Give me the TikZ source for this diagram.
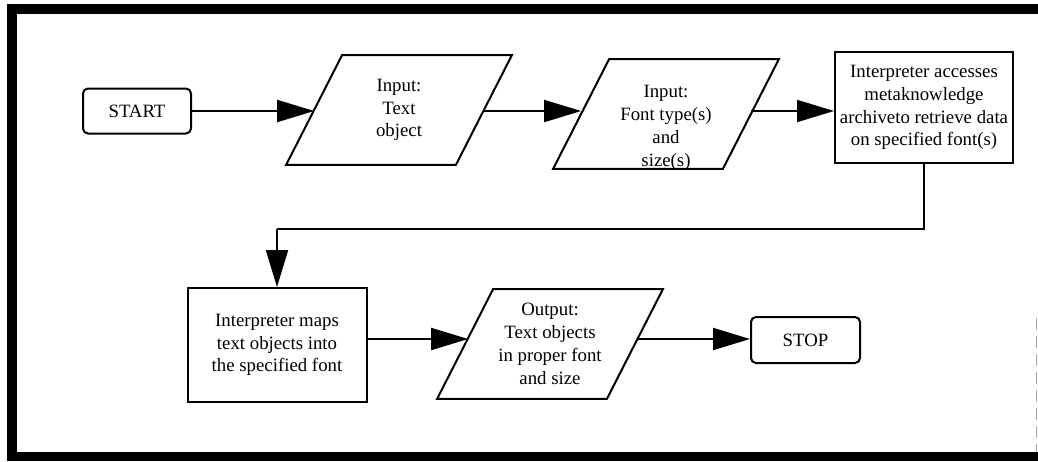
\documentclass[tikz,border=0pt]{standalone}
\usepackage{fontspec}
\setmainfont{Liberation Serif}
\usetikzlibrary{arrows.meta}

\tikzset{
  boxline/.style={draw=black, line width=1pt},
  txt/.style={align=center, font=\fontsize{9.4}{11.4}\selectfont},
  terminal/.style={boxline, txt, rounded corners=2.5pt, minimum width=54pt, minimum height=22.5pt, inner sep=0pt},
  process/.style={boxline, txt, minimum width=89pt, minimum height=56pt, inner sep=0pt},
  slanted/.style={txt, minimum width=84.5pt, minimum height=54.5pt, inner sep=0pt},
  flow/.style={line width=1pt, -{Triangle[length=18.5pt, width=11pt]}},
  link/.style={line width=1pt},
}
% outline of an input/output parallelogram around a named node
\newcommand{\slantframe}[1]{%
  \draw[boxline, line join=miter]
    ([xshift=14pt]#1.north west) -- ([xshift=14pt]#1.north east) --
    ([xshift=-14pt]#1.south east) -- ([xshift=-14pt]#1.south west) -- cycle;}

\begin{document}
\begin{tikzpicture}[x=0.5pt, y=-0.5pt]
  \useasboundingbox (0,0) rectangle (1038,461);

  % heavy outer frame (left, top, bottom)
  \fill[black] (7,4) rectangle (17,461);
  \fill[black] (7,4) rectangle (1038,14);
  \fill[black] (7,452) rectangle (1038,461);
  \draw[black!35, line width=0.6pt, dash pattern=on 6pt off 3pt] (1036.5,318) -- (1036.5,452);

  % levels of the two rows of connectors
  \coordinate (row1) at (0,111);
  \coordinate (row2) at (0,339);
  \coordinate (bend) at (0,229);

  % first row
  \node[terminal] (start) at (137,111) {START};
  \node[slanted] (in1) at (399,110) {Input:\\Text\\object};
  \slantframe{in1}
  \node[slanted, label={[txt, yshift=-7pt]center:{Input:\\Font type(s)\\and\\size(s)}}] (in2) at (666,114) {};
  \slantframe{in2}
  \node[process, minimum width=89pt, minimum height=55.5pt] (access) at (924,107.5)
    {Interpreter accesses\\metaknowledge\\archiveto retrieve data\\on specified font(s)};

  % second row
  \node[process, minimum width=89.5pt, minimum height=57pt] (maps) at (277,345)
    {Interpreter maps\\text objects into\\the specified font};
  \node[slanted] (out) at (550,344) {Output:\\Text objects\\in proper font\\and size};
  \slantframe{out}
  \node[terminal, minimum width=54.5pt, minimum height=23pt] (stop) at (805.5,340) {STOP};

  % connectors
  \draw[flow] (start.east |- row1) -- (in1.west |- row1);
  \draw[flow] (in1.east |- row1) -- (in2.west |- row1);
  \draw[flow] (in2.east |- row1) -- (access.west |- row1);
  \draw[link] (access.south) -- (access.south |- bend) -- (maps.north |- bend);
  \draw[flow] (maps.north |- bend) -- (maps.north);
  \draw[flow] (maps.east |- row2) -- ([xshift=1.5pt]out.west |- row2);
  \draw[flow] ([xshift=1pt]out.east |- row2) -- (stop.west |- row2);
\end{tikzpicture}
\end{document}
